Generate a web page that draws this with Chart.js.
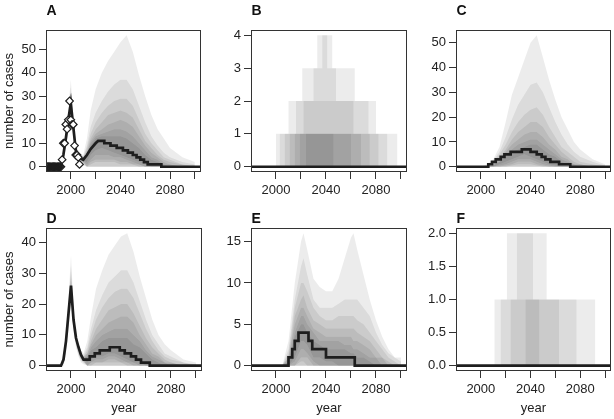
<!DOCTYPE html>
<html>
<head>
<meta charset="utf-8">
<script src="https://cdn.jsdelivr.net/npm/chart.js@4.4.1/dist/chart.umd.min.js"></script>
<style>
  body { margin: 0; background: #fff; width: 614px; height: 419px; position: relative; overflow: hidden; }
  canvas { position: absolute; }
</style>
</head>
<body>
<canvas id="pA"></canvas>
<canvas id="pB"></canvas>
<canvas id="pC"></canvas>
<canvas id="pD"></canvas>
<canvas id="pE"></canvas>
<canvas id="pF"></canvas>
<script>
// ---- axes ----
const X_MIN = 1980, X_MAX = 2104.8;
const xTicks = [2000, 2020, 2040, 2060, 2080, 2100];
const xLabelled = [2000, 2040, 2080];

// ---- panel A ----
const gridAD = [1985, 1992, 1994, 1996, 1998, 2000, 2002, 2004, 2006, 2008, 2010, 2013, 2016, 2020, 2025, 2030, 2035, 2040, 2045, 2050, 2055, 2060, 2065, 2070, 2075, 2080, 2090, 2100];
const aHigh = [
  [0, 0, 7, 15, 25, 37, 22, 11, 7, 5.5, 5, 12, 24, 33, 40, 45, 49, 53, 56, 49, 39, 30, 22, 16, 12, 8, 4, 2],
  [0, 0, 6.5, 14, 23.5, 34, 20.5, 10, 6, 5, 4.5, 9, 17, 23, 28, 32, 35, 37, 37, 33, 26, 19, 13, 9, 6, 4, 2, 1],
  [0, 0, 6, 13.5, 22.5, 32, 19.5, 9, 5.5, 4.5, 4, 8, 14, 19, 23, 26, 28, 29, 29, 26, 20, 14, 10, 7, 4, 3, 1, 0.5],
  [0, 0, 6, 13, 22, 30, 19, 8.5, 5, 4.5, 4, 7, 12, 16, 19, 22, 23, 24, 23, 21, 16, 11, 8, 5, 3, 2, 1, 0],
  [0, 0, 5.5, 13, 21.5, 29, 18.5, 8, 5, 4, 3.5, 6, 11, 14, 16, 18, 19, 20, 19, 17, 13, 9, 6, 4, 2, 1, 0, 0],
  [0, 0, 5.5, 12.5, 21, 28, 18, 8, 4.5, 4, 3.5, 6, 10, 13, 14, 15, 16, 16, 15, 13, 10, 7, 4, 3, 1, 1, 0, 0],
  [0, 0, 5, 12.5, 21, 27.5, 17.5, 7.5, 4.5, 4, 3.5, 5, 9, 12, 13, 13, 13, 13, 12, 10, 8, 5, 3, 2, 1, 0, 0, 0]
];
const aLow = [
  [0, 0, 2, 8, 15, 21, 12.5, 4, 1.5, 1, 0.5, 0, 0, 0, 0, 0, 0, 0, 0, 0, 0, 0, 0, 0, 0, 0, 0, 0],
  [0, 0, 2.5, 9, 16, 23, 13.5, 4.5, 2, 1.5, 1, 0, 0, 0, 0, 0, 0, 0, 0, 0, 0, 0, 0, 0, 0, 0, 0, 0],
  [0, 0, 3, 9.5, 17, 24, 14, 5, 2.5, 2, 1.5, 0, 0, 0, 0, 0, 0, 0, 0, 0, 0, 0, 0, 0, 0, 0, 0, 0],
  [0, 0, 3.5, 10, 18, 25, 15, 5.5, 3, 2.5, 2, 0, 1, 2, 2, 2, 2, 1, 1, 1, 0, 0, 0, 0, 0, 0, 0, 0],
  [0, 0, 3.5, 10.5, 18.5, 25.5, 15.5, 6, 3, 2.5, 2, 0, 2, 3, 3, 3, 3, 2, 2, 1, 1, 0, 0, 0, 0, 0, 0, 0],
  [0, 0, 4, 11, 19, 26, 16, 6, 3.5, 3, 2.5, 1, 3, 5, 5, 5, 4, 4, 3, 2, 1, 0, 0, 0, 0, 0, 0, 0],
  [0, 0, 4.5, 11, 19, 26.5, 16.5, 6.5, 3.5, 3, 2.5, 2, 5, 7, 8, 7, 6, 5, 4, 3, 2, 1, 0, 0, 0, 0, 0, 0]
];
const aMedYears = [1980, 1992, 1994, 1996, 1998, 2000, 2002, 2004, 2006, 2008, 2010, 2013, 2016, 2020, 2022, 2027, 2027, 2032, 2032, 2037, 2037, 2042, 2042, 2046, 2046, 2050, 2050, 2053, 2053, 2056, 2056, 2059, 2059, 2062, 2062, 2073, 2073, 2105];
const aMedCases = [0, 0, 5, 12, 20, 27, 17, 7, 4, 3.5, 3, 5, 7.5, 10, 11, 11, 10, 10, 9, 9, 8, 8, 7, 7, 6, 6, 5, 5, 4, 4, 3, 3, 2, 2, 1, 1, 0, 0];
const obsYears = [1981, 1982, 1983, 1984, 1985, 1986, 1987, 1988, 1989, 1990, 1991, 1992, 1993, 1994, 1995, 1996, 1997, 1998, 1999, 2000, 2001, 2002, 2003, 2004, 2005, 2006, 2007];
const obsCases = [0, 0, 0, 0, 0, 0, 0, 0, 0, 0, 0, 0, 3, 10, 10, 18, 16, 20, 28, 20, 18, 18, 9, 5, 5, 4, 1];

// ---- panel B (discrete counts: year ranges where each band reaches level 1, 2, 3, 4) ----
const bRanges = [
  [[2000, 2097], [2010, 2080], [2021, 2063], [2033, 2045]],
  [[2003, 2089], [2016, 2074], [2030, 2048], [2037, 2041]],
  [[2007, 2082], [2022, 2062]],
  [[2011, 2075]],
  [[2015, 2068]],
  [[2019, 2060]],
  [[2024, 2046]]
];
const bMedYears = [1980, 2105];
const bMedCases = [0, 0];

// ---- panel C ----
const gridC = [1985, 2000, 2005, 2010, 2015, 2020, 2025, 2030, 2035, 2040, 2045, 2050, 2055, 2060, 2065, 2070, 2075, 2080, 2090, 2100];
const cHigh = [
  [0, 0, 1, 3, 8, 18, 29, 36, 43, 50, 53, 44, 35, 27, 20, 15, 10, 7, 3, 1],
  [0, 0, 0.5, 2.5, 6, 12, 19, 25, 29, 33, 34, 30, 24, 18, 13, 9, 6, 4, 2, 0.5],
  [0, 0, 0, 2, 5, 9, 14, 18, 21, 23, 24, 21, 16, 12, 8, 6, 4, 2, 1, 0],
  [0, 0, 0, 1.5, 4, 7, 11, 14, 16, 18, 18, 16, 12, 9, 6, 4, 2, 1, 0, 0],
  [0, 0, 0, 1, 3, 6, 9, 11, 13, 14, 14, 12, 9, 7, 4, 3, 1, 1, 0, 0],
  [0, 0, 0, 1, 2, 5, 7, 9, 10, 11, 11, 9, 7, 5, 3, 2, 1, 0, 0, 0],
  [0, 0, 0, 0.5, 2, 4, 6, 7, 8, 9, 9, 7, 5, 4, 2, 1, 0, 0, 0, 0]
];
const cLow = [
  [0, 0, 0, 0, 0, 0, 0, 0, 0, 0, 0, 0, 0, 0, 0, 0, 0, 0, 0, 0],
  [0, 0, 0, 0, 0, 0, 0, 0, 0, 0, 0, 0, 0, 0, 0, 0, 0, 0, 0, 0],
  [0, 0, 0, 0, 0, 0, 0, 0, 0, 0, 0, 0, 0, 0, 0, 0, 0, 0, 0, 0],
  [0, 0, 0, 0, 0, 0, 0.5, 1, 1, 1, 0.5, 0, 0, 0, 0, 0, 0, 0, 0, 0],
  [0, 0, 0, 0, 0, 0.5, 1, 2, 2, 2, 1, 0.5, 0, 0, 0, 0, 0, 0, 0, 0],
  [0, 0, 0, 0, 0.5, 1, 2, 3, 3, 3, 2, 1, 0.5, 0, 0, 0, 0, 0, 0, 0],
  [0, 0, 0, 0, 1, 2, 3, 4, 5, 4, 3, 2, 1, 0.5, 0, 0, 0, 0, 0, 0]
];
const cMedYears = [1980, 2006, 2006, 2009, 2009, 2012, 2012, 2016, 2016, 2019, 2019, 2024, 2024, 2033, 2033, 2040, 2040, 2045, 2045, 2049, 2049, 2052, 2052, 2056, 2056, 2063, 2063, 2072, 2072, 2105];
const cMedCases = [0, 0, 1, 1, 2, 2, 3, 3, 4, 4, 5, 5, 6, 6, 7, 7, 6, 6, 5, 5, 4, 4, 3, 3, 2, 2, 1, 1, 0, 0];

// ---- panel D ----
const dHigh = [
  [0, 0, 4, 11, 22, 36, 19, 11, 7, 5, 4, 8, 16, 25, 31, 36, 39, 42, 43, 37, 29, 22, 15, 10, 7, 5, 2, 1],
  [0, 0, 3.5, 10, 20, 33, 18, 10.5, 7, 4.5, 3.5, 6, 12, 18, 23, 27, 29, 31, 31, 27, 21, 15, 10, 7, 4, 3, 1, 0.5],
  [0, 0, 3, 9.5, 19, 31, 17, 10, 6.5, 4, 3, 5, 10, 15, 19, 22, 24, 25, 25, 22, 17, 12, 8, 5, 3, 2, 1, 0],
  [0, 0, 3, 9, 18.5, 29, 16.5, 10, 6.5, 4, 3, 4, 8, 12, 15, 18, 19, 20, 20, 17, 13, 9, 6, 4, 2, 1, 0, 0],
  [0, 0, 2.5, 9, 18, 28, 16, 9.5, 6, 4, 2.5, 4, 7, 10, 12, 14, 15, 16, 16, 14, 10, 7, 4, 3, 1, 1, 0, 0],
  [0, 0, 2.5, 8.5, 17.5, 27, 15.5, 9.5, 6, 3.5, 2.5, 3, 6, 8, 10, 11, 12, 12, 12, 10, 8, 5, 3, 2, 1, 0, 0, 0],
  [0, 0, 2, 8.5, 17.5, 26.5, 15.5, 9, 6, 3.5, 2.5, 3, 5, 6, 8, 9, 9, 9, 9, 7, 6, 4, 2, 1, 0, 0, 0, 0]
];
const dLow = [
  [0, 0, 0, 4, 12, 20, 11, 6, 3, 1, 0.5, 0, 0, 0, 0, 0, 0, 0, 0, 0, 0, 0, 0, 0, 0, 0, 0, 0],
  [0, 0, 0.5, 5, 13, 22, 12, 6.5, 3.5, 1.5, 1, 0, 0, 0, 0, 0, 0, 0, 0, 0, 0, 0, 0, 0, 0, 0, 0, 0],
  [0, 0, 0.5, 5.5, 14, 23, 12.5, 7, 4, 2, 1, 0, 0, 0, 0, 0, 0, 0, 0, 0, 0, 0, 0, 0, 0, 0, 0, 0],
  [0, 0, 1, 6, 15, 24, 13, 7.5, 4.5, 2.5, 1.5, 0, 0, 1, 1, 1, 1, 1, 0, 0, 0, 0, 0, 0, 0, 0, 0, 0],
  [0, 0, 1, 6.5, 15.5, 24.5, 13.5, 8, 5, 2.5, 1.5, 0, 1, 1, 1, 2, 2, 1, 1, 0, 0, 0, 0, 0, 0, 0, 0, 0],
  [0, 0, 1.5, 7, 16, 25, 14, 8, 5, 3, 2, 0, 1, 2, 2, 3, 3, 2, 1, 1, 0, 0, 0, 0, 0, 0, 0, 0],
  [0, 0, 1.5, 7.5, 16.5, 25.5, 14.5, 8.5, 5.5, 3, 2, 1, 2, 3, 3, 4, 4, 3, 2, 1, 1, 0, 0, 0, 0, 0, 0, 0]
];
const dMedYears = [1980, 1992, 1994, 1996, 1998, 2000, 2002, 2004, 2006, 2008, 2010, 2015, 2015, 2019, 2019, 2023, 2023, 2031, 2031, 2039, 2039, 2043, 2043, 2048, 2048, 2052, 2052, 2056, 2056, 2063, 2063, 2105];
const dMedCases = [0, 0, 2, 8, 17, 26, 15, 9, 6, 3.5, 2, 2, 3, 3, 4, 4, 5, 5, 6, 6, 5, 5, 4, 4, 3, 3, 2, 2, 1, 1, 0, 0];

// ---- panel E ----
const gridE = [1985, 2005, 2010, 2015, 2020, 2022, 2025, 2030, 2035, 2040, 2045, 2050, 2055, 2060, 2062, 2065, 2070, 2075, 2080, 2085, 2090, 2095, 2100];
const eHigh = [
  [0, 0, 3, 10, 15, 16, 14, 10.5, 9.5, 9, 9, 10.5, 13, 15.5, 16, 14, 11, 8, 5.5, 3.5, 2, 1, 1],
  [0, 0, 2, 8, 12, 13, 11, 8, 7, 7, 7, 7.5, 8, 8, 8, 8, 7, 6, 4, 2.5, 1.5, 1, 0.5],
  [0, 0, 1.5, 7, 10, 10, 9, 7, 6, 5.5, 5.5, 6, 6, 6, 6, 5.5, 5, 4, 3, 2, 1, 0.5, 0],
  [0, 0, 1, 6, 8, 8.5, 7, 5.5, 5, 4.5, 4.5, 4.5, 4.5, 4.5, 4.5, 4, 3.5, 3, 2, 1, 0.5, 0, 0],
  [0, 0, 1, 5, 7, 7, 6, 4.5, 4, 3.5, 3.5, 3.5, 3.5, 3.5, 3, 3, 2.5, 2, 1, 1, 0, 0, 0],
  [0, 0, 0.5, 4, 6, 6, 5, 4, 3, 3, 3, 3, 2.5, 2.5, 2, 2, 1.5, 1, 1, 0, 0, 0, 0],
  [0, 0, 0.5, 3.5, 5, 5, 4, 3, 2.5, 2, 2, 2, 2, 1.5, 1.5, 1, 1, 0.5, 0, 0, 0, 0, 0]
];
const eLow = [
  [0, 0, 0, 0, 0, 0, 0, 0, 0, 0, 0, 0, 0, 0, 0, 0, 0, 0, 0, 0, 0, 0, 0],
  [0, 0, 0, 0, 0, 0, 0, 0, 0, 0, 0, 0, 0, 0, 0, 0, 0, 0, 0, 0, 0, 0, 0],
  [0, 0, 0, 0, 0, 0, 0, 0, 0, 0, 0, 0, 0, 0, 0, 0, 0, 0, 0, 0, 0, 0, 0],
  [0, 0, 0, 0, 0.5, 0.5, 0, 0, 0, 0, 0, 0, 0, 0, 0, 0, 0, 0, 0, 0, 0, 0, 0],
  [0, 0, 0, 0, 1, 1, 1, 0, 0, 0, 0, 0, 0, 0, 0, 0, 0, 0, 0, 0, 0, 0, 0],
  [0, 0, 0, 0.5, 2, 2, 1.5, 0.5, 0, 0, 0, 0, 0, 0, 0, 0, 0, 0, 0, 0, 0, 0, 0],
  [0, 0, 0, 1, 3, 3, 2.5, 1, 1, 0.5, 0.5, 0, 0, 0, 0, 0, 0, 0, 0, 0, 0, 0, 0]
];
const eMedYears = [1980, 2010, 2010, 2013, 2013, 2015, 2015, 2018, 2018, 2026, 2026, 2029, 2029, 2040, 2040, 2063, 2063, 2105];
const eMedCases = [0, 0, 1, 1, 2, 2, 3, 3, 4, 4, 3, 3, 2, 2, 1, 1, 0, 0];

// ---- panel F (discrete: level 1 and 2 ranges) ----
const fRanges = [
  [[2011, 2092], [2021, 2053]],
  [[2016, 2077], [2029, 2042]],
  [[2024, 2063]],
  [[2036, 2047]]
];
const fMedYears = [1980, 2105];
const fMedCases = [0, 0];

// ---- drawing ----
const BAND = 'rgba(0,0,0,0.075)';
const INK = '#1e1e1e';
const FONT = "'Liberation Sans', Arial, Helvetica, sans-serif";

const pts = (xs, ys) => xs.map((x, i) => ({ x, y: ys[i] }));

function bandSets(years, lows, highs) {
  const sets = [];
  highs.forEach((hi, k) => {
    sets.push({ data: pts(years, lows[k]), borderWidth: 0, borderColor: 'transparent', pointRadius: 0, fill: false, order: 10 });
    sets.push({ data: pts(years, hi), borderWidth: 0, borderColor: 'transparent', pointRadius: 0, fill: '-1', backgroundColor: BAND, order: 10 });
  });
  return sets;
}

function stepSets(bands) {
  return bands.map(ranges => {
    const edges = [...new Set(ranges.flat())].sort((a, b) => a - b);
    const level = x => ranges.filter(r => r[0] <= x && x < r[1]).length;
    const data = [{ x: X_MIN, y: 0 }];
    let prev = 0;
    edges.forEach(e => {
      const v = level(e);
      data.push({ x: e, y: prev }, { x: e, y: v });
      prev = v;
    });
    data.push({ x: X_MAX, y: 0 });
    return { data, borderWidth: 0, borderColor: 'transparent', pointRadius: 0, fill: 'origin', backgroundColor: BAND, order: 10 };
  });
}

function medianSet(xs, ys) {
  return { data: pts(xs, ys), borderColor: INK, borderWidth: 2.7, pointRadius: 0, fill: false, tension: 0, order: 1 };
}

const frame = {
  id: 'frame',
  afterDatasetsDraw(chart, args, opts) {
    const { ctx, chartArea: a } = chart;
    ctx.save();
    ctx.strokeStyle = '#333';
    ctx.lineWidth = 1;
    ctx.strokeRect(Math.round(a.left) + 0.5, Math.round(a.top) + 0.5, Math.round(a.width) - 1, Math.round(a.height) - 1);
    ctx.fillStyle = '#111';
    ctx.font = 'bold 14px ' + FONT;
    ctx.textBaseline = 'alphabetic';
    ctx.fillText(opts.letter, a.left + 0.5, a.top - opts.gap);
    ctx.restore();
  }
};

function panel(id, box, cfg) {
  const cv = document.getElementById(id);
  cv.width = box.w + 50;
  cv.height = box.h + 82;
  cv.style.left = (box.x - 46) + 'px';
  cv.style.top = (box.y - 30) + 'px';
  new Chart(cv, {
    type: 'line',
    data: { datasets: cfg.datasets },
    options: {
      responsive: false,
      animation: false,
      events: [],
      layout: { padding: { left: 0, top: 30, right: 4, bottom: 0 } },
      plugins: {
        legend: { display: false },
        tooltip: { enabled: false },
        frame: { letter: cfg.letter, gap: cfg.gap }
      },
      scales: {
        x: {
          type: 'linear', min: X_MIN, max: X_MAX,
          afterBuildTicks: s => { s.ticks = xTicks.map(v => ({ value: v })); },
          afterFit: s => { s.height = 52; },
          grid: { drawOnChartArea: false, tickLength: 7, color: '#333' },
          border: { display: false },
          ticks: {
            autoSkip: false, maxRotation: 0, padding: 4, color: '#222',
            font: { family: FONT, size: 13 },
            callback: v => xLabelled.includes(v) ? String(v) : ''
          },
          title: { display: !!cfg.xTitle, text: 'year', color: '#222', font: { family: FONT, size: 13 }, padding: { top: 0, bottom: 7 } }
        },
        y: {
          min: cfg.yMin, max: cfg.yMax,
          afterBuildTicks: s => { s.ticks = cfg.yTicks.map(v => ({ value: v })); },
          afterFit: s => { s.width = 46; },
          grid: { drawOnChartArea: false, tickLength: 7, color: '#333' },
          border: { display: false },
          ticks: {
            padding: 3, color: '#222',
            font: { family: FONT, size: 13 },
            callback: v => cfg.yFixed ? v.toFixed(1) : String(v)
          },
          title: { display: !!cfg.yTitle, text: 'number of cases', color: '#222', font: { family: FONT, size: 13 }, padding: { top: 2, bottom: 0 } }
        }
      }
    },
    plugins: [frame]
  });
}

panel('pA', { x: 46, y: 30, w: 156, h: 142 }, {
  letter: 'A', gap: 15, yTitle: true, yMin: -2.24, yMax: 58.24, yTicks: [0, 10, 20, 30, 40, 50],
  datasets: [
    ...bandSets(gridAD, aLow, aHigh),
    medianSet(aMedYears, aMedCases),
    { data: pts(obsYears, obsCases), showLine: false, pointStyle: 'rectRot', pointRadius: 3.8,
      pointBorderWidth: 1.2, pointBorderColor: INK,
      // zero-count diamonds overlap into a solid dark run, so leave them unfilled
      pointBackgroundColor: obsCases.map(v => v === 0 ? 'rgba(0,0,0,0)' : '#fff'), order: 0 }
  ]
});
panel('pB', { x: 251, y: 30, w: 156, h: 142 }, {
  letter: 'B', gap: 15, yMin: -0.16, yMax: 4.16, yTicks: [0, 1, 2, 3, 4],
  datasets: [...stepSets(bRanges), medianSet(bMedYears, bMedCases)]
});
panel('pC', { x: 456, y: 30, w: 155, h: 142 }, {
  letter: 'C', gap: 15, yMin: -2.12, yMax: 55.12, yTicks: [0, 10, 20, 30, 40, 50],
  datasets: [...bandSets(gridC, cLow, cHigh), medianSet(cMedYears, cMedCases)]
});
panel('pD', { x: 46, y: 228, w: 156, h: 143 }, {
  letter: 'D', gap: 5, yTitle: true, xTitle: true, yMin: -1.72, yMax: 44.72, yTicks: [0, 10, 20, 30, 40],
  datasets: [...bandSets(gridAD, dLow, dHigh), medianSet(dMedYears, dMedCases)]
});
panel('pE', { x: 251, y: 228, w: 156, h: 143 }, {
  letter: 'E', gap: 5, xTitle: true, yMin: -0.64, yMax: 16.64, yTicks: [0, 5, 10, 15],
  datasets: [...bandSets(gridE, eLow, eHigh), medianSet(eMedYears, eMedCases)]
});
panel('pF', { x: 456, y: 228, w: 155, h: 143 }, {
  letter: 'F', gap: 5, xTitle: true, yFixed: true, yMin: -0.08, yMax: 2.08, yTicks: [0, 0.5, 1, 1.5, 2],
  datasets: [...stepSets(fRanges), medianSet(fMedYears, fMedCases)]
});
</script>
</body>
</html>
